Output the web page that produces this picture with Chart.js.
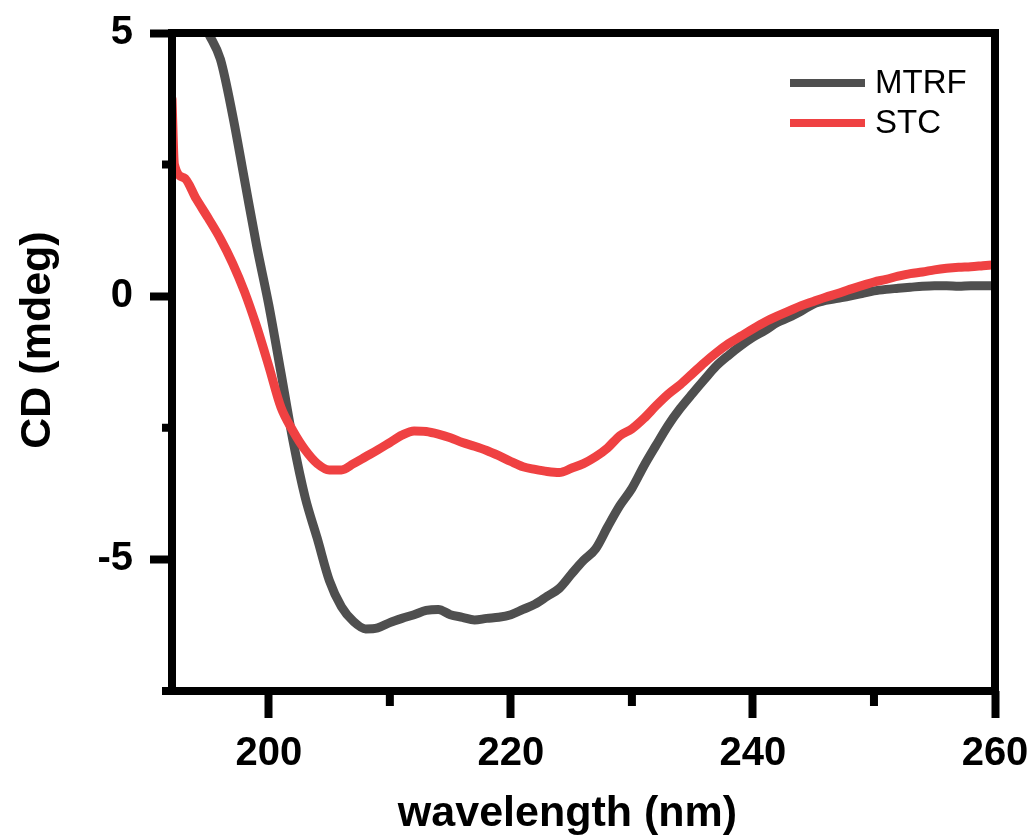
<!DOCTYPE html>
<html>
<head>
<meta charset="utf-8">
<script src="https://cdn.jsdelivr.net/npm/chart.js@4.4.0/dist/chart.umd.min.js"></script>
<style>
  body { margin: 0; background: #fff; }
  .chart-container { width: 1035px; height: 836px; }
</style>
</head>
<body>
<div class="chart-container"><canvas id="myChart"></canvas></div>
<script>
// wavelengths (nm) and CD values (mdeg)
const mtrfNm = [195, 196, 197, 198, 199, 200, 201, 202, 203, 204, 205, 206, 207, 208, 209, 210,
    211, 212, 213, 214, 215, 216, 217, 218, 219, 220, 221, 222, 223, 224, 225, 226, 227, 228, 229, 230,
    231, 232, 233, 234, 235, 236, 237, 238, 239, 240, 241, 242, 243, 244, 245, 246, 247, 248, 249, 250,
    251, 252, 253, 254, 255, 256, 257, 258, 259, 260]
const mtrfCd = [5.0, 4.5, 3.45, 2.2, 0.95, -0.17, -1.45, -2.75, -3.82, -4.6, -5.4, -5.9, -6.18, -6.32, -6.3, -6.2,
    -6.12, -6.05, -5.97, -5.95, -6.05, -6.1, -6.15, -6.12, -6.1, -6.05, -5.95, -5.85, -5.7, -5.55, -5.28, -5.02, -4.8, -4.38, -3.98, -3.65,
    -3.22, -2.83, -2.45, -2.13, -1.85, -1.58, -1.32, -1.12, -0.94, -0.78, -0.65, -0.5, -0.4, -0.28, -0.15, -0.08, -0.04, 0.0, 0.05, 0.1,
    0.13, 0.15, 0.17, 0.19, 0.2, 0.2, 0.19, 0.2, 0.2, 0.2]

const stcNm = [192, 192.2, 193, 194, 195, 196, 197, 198, 199, 200, 201, 202, 203, 204, 205, 206, 207, 208, 209, 210,
    211, 212, 213, 214, 215, 216, 217, 218, 219, 220, 221, 222, 223, 224, 225, 226, 227, 228, 229, 230,
    231, 232, 233, 234, 235, 236, 237, 238, 239, 240, 241, 242, 243, 244, 245, 246, 247, 248, 249, 250,
    251, 252, 253, 254, 255, 256, 257, 258, 259, 260]
const stcCd = [3.75, 2.5, 2.25, 1.85, 1.48, 1.09, 0.63, 0.08, -0.58, -1.33, -2.11, -2.56, -2.92, -3.18, -3.3, -3.3, -3.18, -3.05, -2.92, -2.78,
    -2.64, -2.56, -2.57, -2.62, -2.69, -2.78, -2.85, -2.93, -3.03, -3.14, -3.24, -3.29, -3.33, -3.35, -3.27, -3.18, -3.05, -2.88, -2.65, -2.52,
    -2.32, -2.08, -1.86, -1.68, -1.47, -1.26, -1.07, -0.9, -0.76, -0.62, -0.49, -0.38, -0.28, -0.18, -0.1, -0.02, 0.05, 0.13, 0.2, 0.27,
    0.32, 0.38, 0.43, 0.46, 0.5, 0.53, 0.55, 0.56, 0.58, 0.6]

const seriesNames = ["MTRF", "STC"]
const xMajor = [200, 220, 240, 260]
const xMinor = [210, 230, 250]
const yMajor = [5, 0, -5]
const yMinor = [2.5, -2.5, -7.5]
const xTitle = 'wavelength (nm)'
const yTitle = 'CD (mdeg)'

const fontFamily = "'Liberation Sans', Arial, sans-serif"

function toPoints(xs, ys) {
    return xs.map((x, i) => ({ x: x, y: ys[i] }))
}

// box around the plot, minor ticks, axis titles and the legend inside the plot
const framePlugin = {
    id: 'frame',
    afterDatasetsDraw(chart) {
        const ctx = chart.ctx
        const a = chart.chartArea
        const xs = chart.scales.x
        const ys = chart.scales.y
        ctx.save()
        ctx.strokeStyle = '#000'
        ctx.lineWidth = 8
        ctx.strokeRect(a.left, a.top, a.right - a.left, a.bottom - a.top)
        ctx.beginPath()
        xMinor.forEach(v => {
            const px = xs.getPixelForValue(v)
            ctx.moveTo(px, a.bottom)
            ctx.lineTo(px, a.bottom + 15)
        })
        yMinor.forEach(v => {
            const py = ys.getPixelForValue(v)
            ctx.moveTo(a.left - 10, py)
            ctx.lineTo(a.left, py)
        })
        ctx.stroke()

        // axis titles (sit a little off centre in the original)
        ctx.fillStyle = '#000'
        ctx.font = "bold 43px " + fontFamily
        ctx.textAlign = 'center'
        ctx.textBaseline = 'middle'
        ctx.fillText(xTitle, (a.left + a.right) / 2 - 16, chart.height - 22)
        ctx.save()
        ctx.translate(38, (a.top + a.bottom) / 2 - 22)
        ctx.rotate(-Math.PI / 2)
        ctx.fillText(yTitle, 0, 0)
        ctx.restore()

        // legend
        const lx = a.right - 205
        let ly = a.top + 50
        ctx.font = "33px " + fontFamily
        ctx.textAlign = 'left'
        chart.data.datasets.forEach(ds => {
            ctx.strokeStyle = ds.borderColor
            ctx.lineWidth = 8
            ctx.beginPath()
            ctx.moveTo(lx, ly)
            ctx.lineTo(lx + 75, ly)
            ctx.stroke()
            ctx.fillText(ds.label, lx + 85, ly + 1)
            ly += 40
        })
        ctx.restore()
    }
}

const chartConfig = {
    type: 'line',
    data: {
        datasets: [{
            label: seriesNames[0],
            data: toPoints(mtrfNm, mtrfCd),
            borderColor: '#4f4f4f',
            order: 1
        }, {
            label: seriesNames[1],
            data: toPoints(stcNm, stcCd),
            borderColor: '#ef4142',
            order: 0
        }]
    },
    options: {
        responsive: true,
        maintainAspectRatio: false,
        animation: false,
        layout: { padding: { top: 33, right: 40, left: 0, bottom: 0 } },
        elements: {
            point: { radius: 0 },
            line: { borderWidth: 9, cubicInterpolationMode: 'monotone', borderCapStyle: 'round', borderJoinStyle: 'round' }
        },
        plugins: {
            legend: { display: false },
            tooltip: { enabled: false }
        },
        scales: {
            x: {
                type: 'linear',
                min: 192,
                max: 260,
                afterBuildTicks: axis => { axis.ticks = xMajor.map(v => ({ value: v })) },
                afterFit: axis => {
                    axis.height = 145
                    axis.paddingLeft = 0
                    axis.paddingRight = 0
                },
                border: { display: false },
                grid: { drawOnChartArea: false, tickLength: 27, tickWidth: 8, tickColor: '#000' },
                ticks: {
                    color: '#000',
                    padding: 12,
                    maxRotation: 0,
                    font: { family: fontFamily, size: 40, weight: 'bold' }
                }
            },
            y: {
                min: -7.5,
                max: 5,
                afterBuildTicks: axis => { axis.ticks = yMajor.map(v => ({ value: v })) },
                afterFit: axis => {
                    axis.width = 172
                    axis.paddingTop = 0
                    axis.paddingBottom = 0
                },
                border: { display: false },
                grid: { drawOnChartArea: false, tickLength: 22, tickWidth: 8, tickColor: '#000' },
                ticks: {
                    color: '#000',
                    padding: 17,
                    font: { family: fontFamily, size: 40, weight: 'bold' }
                }
            }
        }
    },
    plugins: [framePlugin]
}

const canvas = document.getElementById('myChart')
new Chart(canvas, chartConfig)
</script>
</body>
</html>
